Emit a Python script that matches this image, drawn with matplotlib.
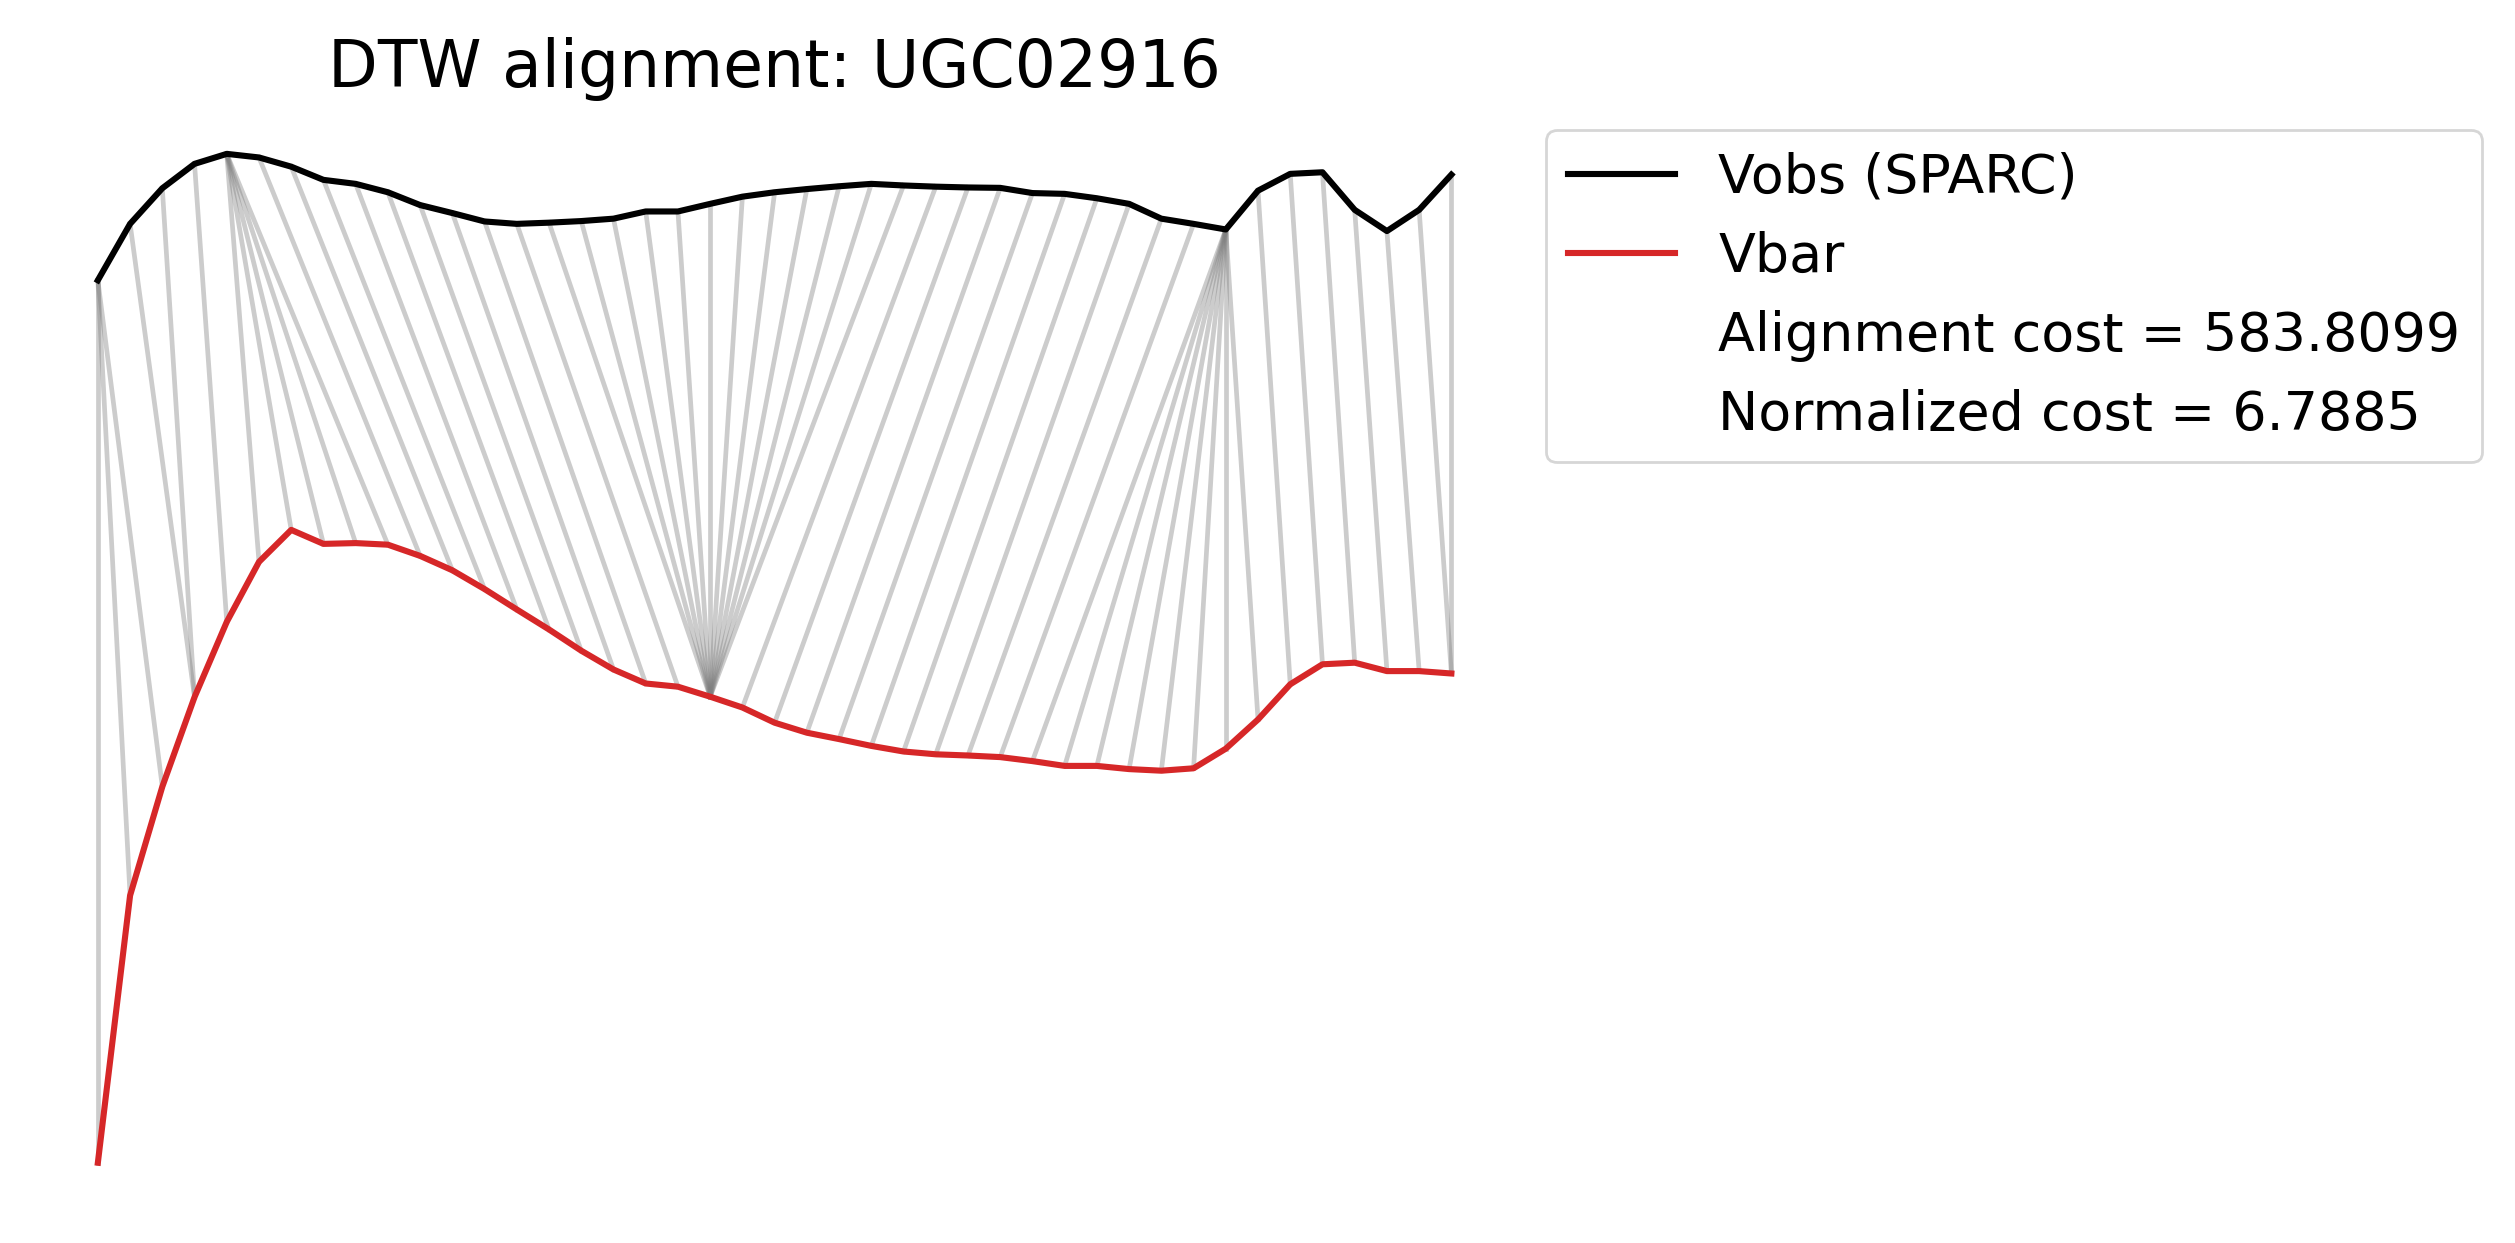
import numpy as np
import matplotlib
matplotlib.use("Agg")
import matplotlib.pyplot as plt

galaxy = "UGC02916"

# rotation curves (km/s), one value per radius index
vobs = [234.2, 248.3, 257.2, 263.3, 265.8, 264.9, 262.6, 259.3, 258.3, 256.2,
        253.0, 251.0, 248.9, 248.3, 248.6, 249.0, 249.6, 251.4, 251.4, 253.3,
        255.1, 256.2, 257.0, 257.7, 258.3, 257.9, 257.6, 257.4, 257.3, 256.0,
        255.8, 254.7, 253.3, 249.6, 248.3, 246.9, 256.6, 260.8, 261.2, 251.8,
        246.5, 251.8, 260.6]
vbar = [13.6, 80.4, 107.6, 130.0, 148.8, 163.8, 171.8, 168.3, 168.5, 168.1,
        165.3, 161.7, 157.0, 151.9, 146.9, 141.6, 136.9, 133.4, 132.6, 130.1,
        127.4, 123.6, 121.1, 119.5, 117.8, 116.4, 115.7, 115.4, 115.0, 114.0,
        112.8, 112.8, 112.0, 111.6, 112.2, 117.1, 124.4, 133.2, 138.2, 138.6,
        136.5, 136.5, 135.9]

# warping path (index into vobs, index into vbar)
path_i = [0, 0, 0, 1, 2, 3, 4, 4, 4, 4, 4, 5, 6, 7, 8, 9, 10, 11, 12, 13,
          14, 15, 16, 17, 18, 19, 20, 21, 22, 23, 24, 25, 26, 27, 28, 29, 30,
          31, 32, 33, 34, 35, 35, 35, 35, 35, 35, 35, 35, 36, 37, 38, 39, 40,
          41, 42]
path_j = [0, 1, 2, 3, 3, 4, 5, 6, 7, 8, 9, 10, 11, 12, 13, 14, 15, 16, 17, 18,
          19, 19, 19, 19, 19, 19, 19, 19, 19, 19, 19, 19, 20, 21, 22, 23, 24,
          25, 26, 27, 28, 29, 30, 31, 32, 33, 34, 35, 36, 37, 38, 39, 40, 41,
          42, 42]

cost = 583.8099
norm_cost = 6.7885

fig = plt.figure(figsize=(12.575, 6.215), dpi=200)
fig.subplots_adjust(left=0.012, right=0.604, top=0.9168, bottom=0.024)
ax = fig.add_subplot(111)

x_obs = np.arange(len(vobs))
x_bar = np.arange(len(vbar))

# connection lines of the warping path
for i, j in zip(path_i, path_j):
    ax.plot([x_obs[i], x_bar[j]], [vobs[i], vbar[j]], color="gray", alpha=0.4,
            linewidth=1.7, zorder=1)

ax.plot(x_obs, vobs, color="black", linewidth=2.2, label="Vobs (SPARC)", zorder=3)
ax.plot(x_bar, vbar, color="#d62728", linewidth=2.2, label="Vbar", zorder=3)
ax.plot([], [], " ", label=f"Alignment cost = {cost:.4f}")
ax.plot([], [], " ", label=f"Normalized cost = {norm_cost:.4f}")

ax.set_title(f"DTW alignment: {galaxy}", fontsize=23.3)
ax.axis("off")
ax.legend(loc="upper left", bbox_to_anchor=(1.0, 1.0), fontsize=19.4)

plt.savefig("out.png", dpi=200)
plt.close()
